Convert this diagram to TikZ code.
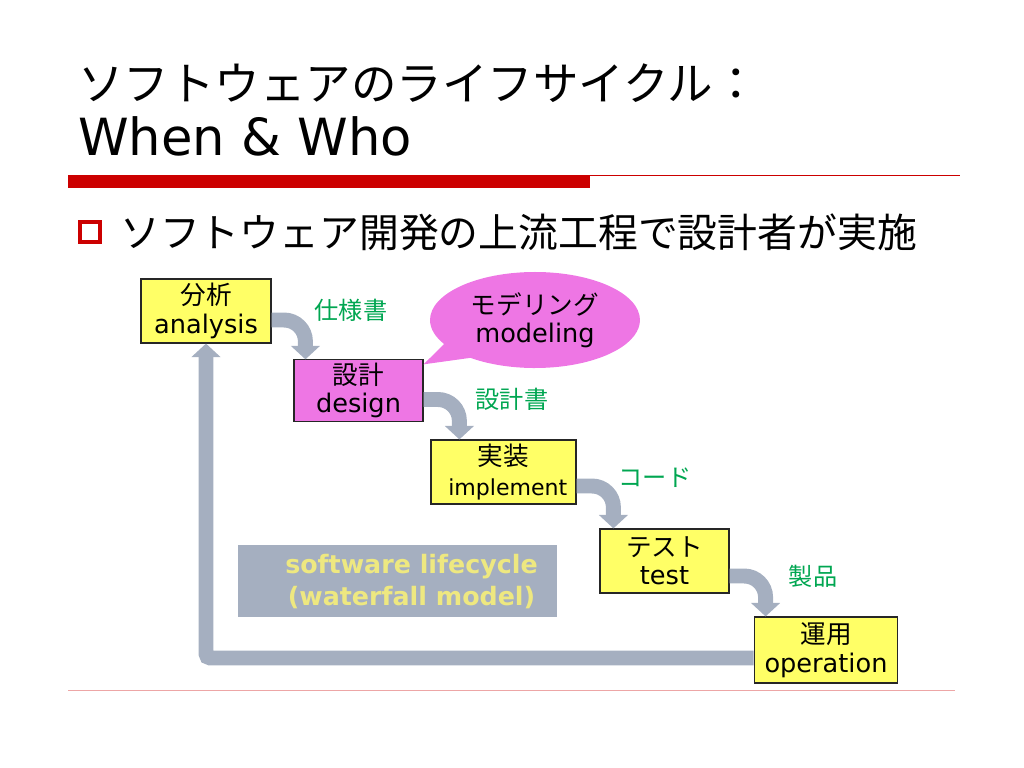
\documentclass[tikz,border=0pt]{standalone}
\usepackage{fontspec}
\setmainfont{DejaVu Sans}
\newfontfamily\jp{Noto Sans CJK JP}
\usetikzlibrary{arrows.meta,shapes.callouts,calc}
\definecolor{boxyellow}{RGB}{255,255,102}
\definecolor{boxpink}{RGB}{238,118,228}
\definecolor{flowgrey}{RGB}{165,175,192}
\definecolor{docgreen}{RGB}{0,166,81}
\definecolor{barred}{RGB}{204,0,0}
\definecolor{labelyellow}{RGB}{238,232,128}
\tikzset{
  phase/.style={draw=black!85, line width=0.8pt, fill=boxyellow, align=center, inner sep=0pt,
    font=\fontsize{18}{20}\selectfont},
  flow/.style={draw=flowgrey, line width=10.5pt, rounded corners=15pt,
    -{Triangle[width=20pt,length=9.5pt]}},
  doc/.style={text=docgreen, font=\jp\fontsize{17}{20}\selectfont},
}

\begin{document}
\begin{tikzpicture}[x=0.703pt, y=-0.703pt] % 1 unidad = 1 pixel de la diapositiva
  \useasboundingbox (0,0) rectangle (1024,768);
  % titulo
  \node[anchor=base west, inner sep=0pt, font=\jp\fontsize{32}{38}\selectfont] (ttl) at (78,100) {ソフトウェアのライフサイクル：};
  \node[anchor=base west, inner sep=0pt, font=\fontsize{36}{40}\selectfont] (ttlb) at (78,155) {When \& Who};
  \fill[barred] (68,175) rectangle (590,188);
  \draw[barred, line width=0.7pt] (590,175.5) -- (960,175.5);
  \draw[barred, line width=2.8pt] (80,222) rectangle (100,242);
  \node[anchor=west, inner sep=0pt, font=\jp\fontsize{28}{32}\selectfont] (item) at (120,232) {ソフトウェア開発の上流工程で設計者が実施};
  % fases
  \node[phase, minimum width=91.4pt, minimum height=45pt] (anl) at (206,311) {{\jp 分析}\\analysis};
  \node[phase, fill=boxpink, minimum width=90.7pt, minimum height=43pt] (dsg) at (358.5,390.5) {{\jp 設計}\\design};
  \node[phase, minimum width=102pt, minimum height=45pt] (imp) at (503.5,472) {{\jp 実装}\\[1pt]\hspace*{6pt}{\fontsize{15.5}{18}\selectfont implement}};
  \node[phase, minimum width=90.7pt, minimum height=45pt] (tst) at (664.5,561) {{\jp テスト}\\test};
  \node[phase, minimum width=101pt, minimum height=46.4pt] (ope) at (826,650) {{\jp 運用}\\operation};
  \node[fill=flowgrey, inner sep=0pt, minimum width=224pt, minimum height=50.6pt] (wfl) at (397.5,581) {};
  \node[text=labelyellow, align=center, inner sep=0pt, font=\bfseries\fontsize{17.8}{22.5}\selectfont]
    (wft) at ($(wfl.center)+(14,1)$) {software lifecycle\\(waterfall model)};
  % flechas
  \draw[flow] ($(anl.east)+(0,9)$) -| ($(dsg.north west)+(12,0)$);
  \draw[flow] ($(dsg.east)+(0,9)$) -| ($(imp.north west)+(29,0)$);
  \draw[flow] ($(imp.east)+(0,14)$) -| ($(tst.north west)+(14,0)$);
  \draw[flow] ($(tst.east)+(0,15)$) -| ($(ope.north west)+(12,0)$);
  \draw[flow, rounded corners=3pt] ($(ope.west)+(0,8)$) -| (anl.south);
  % documentos
  \node[doc] (spec) at (351,310) {仕様書};
  \node[doc] (ddoc) at (512,399) {設計書};
  \node[doc] (code) at (655,478) {コード};
  \node[doc] (prod) at (813,576) {製品};
  % globo
  \coordinate (tip) at ($(dsg.north east)+(0,5)$);
  \node[ellipse callout, fill=boxpink, inner sep=0pt, minimum width=147.6pt, minimum height=67.5pt,
    callout absolute pointer=(tip), callout pointer arc=22, align=center,
    font=\fontsize{18}{20}\selectfont] (mdl) at (535,320) {{\jp モデリング}\\modeling};
  \draw[barred!35, line width=0.7pt] (68,690) -- (955,690);
\end{tikzpicture}
\end{document}
